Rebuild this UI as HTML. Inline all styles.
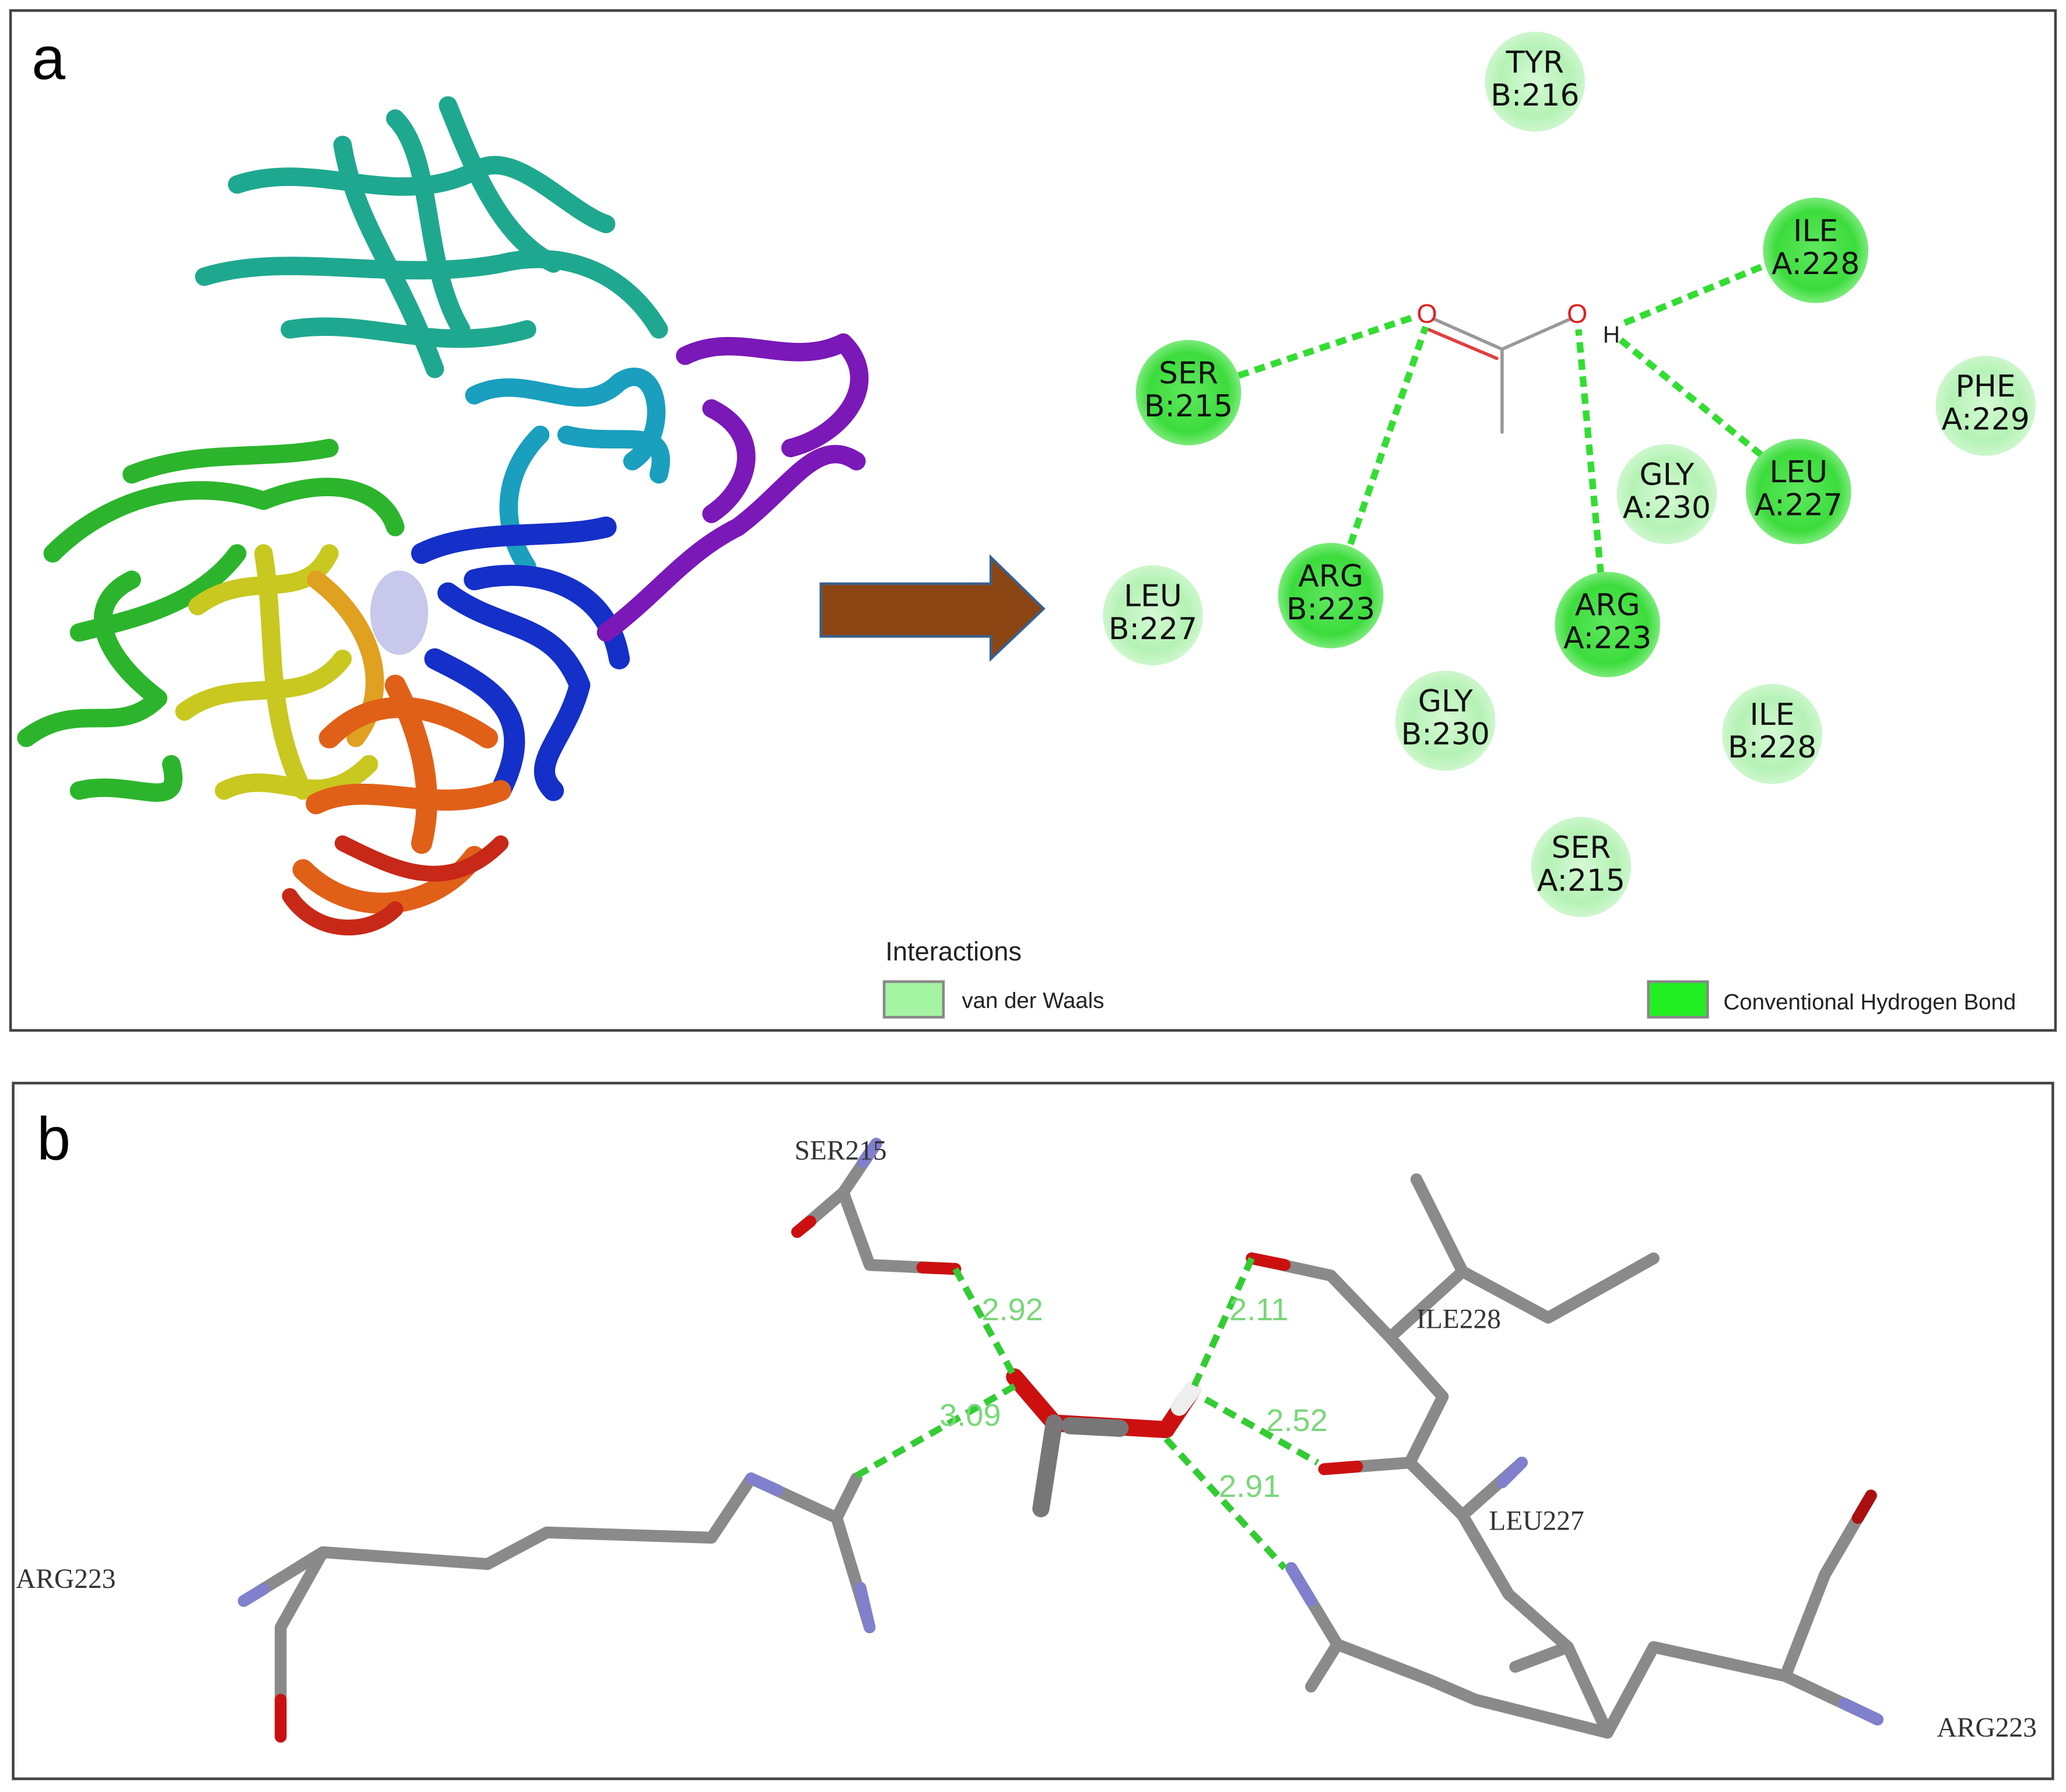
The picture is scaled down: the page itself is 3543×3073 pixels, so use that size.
<!DOCTYPE html>
<html><head><meta charset="utf-8"><style>html,body{margin:0;padding:0;background:#fff}svg{display:block}</style></head>
<body>
<svg width="3543" height="3073" viewBox="0 0 1568 1360" xmlns="http://www.w3.org/2000/svg">
<defs>
<radialGradient id="lg" cx="50%" cy="50%" r="50%"><stop offset="0" stop-color="#d6fad6"/><stop offset="0.7" stop-color="#b5f2b5"/><stop offset="1" stop-color="#cdf7cd"/></radialGradient>
<radialGradient id="dg" cx="50%" cy="50%" r="50%"><stop offset="0" stop-color="#5fe85f"/><stop offset="0.75" stop-color="#3cdc3c"/><stop offset="1" stop-color="#7aeb7a"/></radialGradient>
</defs>
<rect width="1568" height="1360" fill="#fff"/>
<rect x="8" y="8" width="1552" height="774" fill="none" stroke="#444" stroke-width="2"/>
<rect x="10" y="822" width="1548" height="528" fill="none" stroke="#444" stroke-width="2"/>
<text x="24" y="60" font-family="Liberation Sans,sans-serif" font-size="46">a</text>
<text x="28" y="880" font-family="Liberation Sans,sans-serif" font-size="46">b</text>

<!-- protein ribbon approximation -->
<g fill="none" stroke-linecap="round" stroke-linejoin="round">
<path d="M155,210 C220,190 300,215 380,200 C420,190 470,200 500,250 M180,140 C240,120 300,160 360,130 C390,110 430,160 460,170 M220,250 C280,240 330,270 400,250 M300,90 C330,120 320,200 350,250 M260,110 C270,170 300,200 330,280 M340,80 C360,130 380,180 420,200" stroke="#1fa890" stroke-width="14"/>
<path d="M360,300 C400,280 440,320 470,290 C500,270 510,330 480,350 M410,330 C380,360 380,400 400,430 M430,330 C470,340 510,320 500,360" stroke="#1a9fbf" stroke-width="14"/>
<path d="M320,420 C360,400 420,410 460,400 M340,450 C380,480 420,470 440,520 C430,560 400,580 420,600 M330,500 C370,520 410,540 380,600 M360,440 C400,430 460,440 470,500" stroke="#1430c8" stroke-width="16"/>
<path d="M520,270 C560,250 600,280 640,260 C670,290 640,330 600,340 M460,480 C500,450 520,420 560,400 C600,370 620,330 650,350 M540,310 C580,330 570,370 540,390" stroke="#7a18b8" stroke-width="14"/>
<path d="M40,420 C80,380 140,360 200,380 C250,360 290,370 300,400 M20,560 C60,530 90,560 120,530 C80,500 60,460 100,440 M60,600 C100,590 140,620 130,580 M100,360 C150,340 200,350 250,340 M60,480 C100,470 150,460 180,420" stroke="#2cb52c" stroke-width="14"/>
<path d="M150,460 C190,430 230,460 250,420 M140,540 C180,510 230,540 260,500 M170,600 C210,580 240,620 280,580 M200,420 C210,480 200,540 230,600" stroke="#c8c820" stroke-width="14"/>
<path d="M240,440 C280,470 300,520 270,560" stroke="#e0a020" stroke-width="14"/>
<path d="M250,560 C290,520 340,540 370,560 M240,610 C280,590 330,620 380,600 M230,660 C270,700 330,690 360,650 M300,520 C320,560 330,600 320,640" stroke="#e06018" stroke-width="16"/>
<path d="M260,640 C300,660 340,680 380,640 M220,680 C240,710 280,710 300,690" stroke="#c82818" stroke-width="12"/>
<ellipse cx="303" cy="465" rx="22" ry="32" fill="#c8c8ec" stroke="none"/>
</g>

<!-- arrow -->
<path d="M623,443 L752,443 L752,423 L792,462 L752,500 L752,483 L623,483 Z" fill="#8b4513" stroke="#3a5f8a" stroke-width="2"/>

<!-- ligand -->
<g stroke-linecap="round">
<line x1="1088" y1="242" x2="1140" y2="265" stroke="#999" stroke-width="2.5"/>
<line x1="1084" y1="250" x2="1136" y2="272" stroke="#e04040" stroke-width="2.5"/>
<line x1="1140" y1="265" x2="1192" y2="242" stroke="#999" stroke-width="2.5"/>
<line x1="1140" y1="265" x2="1140" y2="328" stroke="#999" stroke-width="2.5"/>
</g>
<text x="1083" y="245" font-family="Liberation Sans,sans-serif" font-size="20" fill="#e02020" text-anchor="middle">O</text>
<text x="1197" y="245" font-family="Liberation Sans,sans-serif" font-size="20" fill="#e02020" text-anchor="middle">O</text>
<text x="1223" y="260" font-family="Liberation Sans,sans-serif" font-size="18" fill="#222" text-anchor="middle">H</text>
<g stroke="#33dd33" stroke-width="5" stroke-dasharray="8,5">
<line x1="940" y1="285" x2="1075" y2="240"/>
<line x1="1025" y1="413" x2="1082" y2="248"/>
<line x1="1215" y1="436" x2="1198" y2="250"/>
<line x1="1233" y1="245" x2="1343" y2="200"/>
<line x1="1230" y1="258" x2="1340" y2="348"/>
</g>

<!-- residues -->
<g font-family="DejaVu Sans,sans-serif" font-size="23" text-anchor="middle" fill="#111">
<circle cx="1165" cy="62" r="38" fill="url(#lg)"/><text x="1165" y="55">TYR</text><text x="1165" y="80">B:216</text>
<circle cx="1378" cy="190" r="40" fill="url(#dg)"/><text x="1378" y="183">ILE</text><text x="1378" y="208">A:228</text>
<circle cx="902" cy="298" r="40" fill="url(#dg)"/><text x="902" y="291">SER</text><text x="902" y="316">B:215</text>
<circle cx="1507" cy="308" r="38" fill="url(#lg)"/><text x="1507" y="301">PHE</text><text x="1507" y="326">A:229</text>
<circle cx="1265" cy="375" r="38" fill="url(#lg)"/><text x="1265" y="368">GLY</text><text x="1265" y="393">A:230</text>
<circle cx="1365" cy="373" r="40" fill="url(#dg)"/><text x="1365" y="366">LEU</text><text x="1365" y="391">A:227</text>
<circle cx="875" cy="467" r="38" fill="url(#lg)"/><text x="875" y="460">LEU</text><text x="875" y="485">B:227</text>
<circle cx="1010" cy="452" r="40" fill="url(#dg)"/><text x="1010" y="445">ARG</text><text x="1010" y="470">B:223</text>
<circle cx="1220" cy="474" r="40" fill="url(#dg)"/><text x="1220" y="467">ARG</text><text x="1220" y="492">A:223</text>
<circle cx="1097" cy="547" r="38" fill="url(#lg)"/><text x="1097" y="540">GLY</text><text x="1097" y="565">B:230</text>
<circle cx="1345" cy="557" r="38" fill="url(#lg)"/><text x="1345" y="550">ILE</text><text x="1345" y="575">B:228</text>
<circle cx="1200" cy="658" r="38" fill="url(#lg)"/><text x="1200" y="651">SER</text><text x="1200" y="676">A:215</text>
</g>

<!-- legend -->
<text x="672" y="729" font-family="Liberation Sans,sans-serif" font-size="20" fill="#222">Interactions</text>
<rect x="671" y="745" width="45" height="27" fill="#a4f4a4" stroke="#888" stroke-width="2"/>
<text x="730" y="765" font-family="Liberation Sans,sans-serif" font-size="17" fill="#222">van der Waals</text>
<rect x="1251" y="745" width="45" height="27" fill="#22ee22" stroke="#888" stroke-width="2"/>
<text x="1308" y="766" font-family="Liberation Sans,sans-serif" font-size="17" fill="#222">Conventional Hydrogen Bond</text>

<!-- panel b sticks -->
<g fill="none" stroke="#8a8a8a" stroke-width="9" stroke-linecap="round" stroke-linejoin="round">
<polyline points="185,1215 245,1178 370,1187 415,1163 540,1167 570,1122 635,1152 660,1235"/>
<polyline points="635,1152 650,1122"/>
<polyline points="245,1178 213,1235 213,1318"/>
<polyline points="665,868 640,905 660,960 725,963"/>
<polyline points="640,905 605,935"/>
<polyline points="950,955 1010,968 1055,1015 1110,965 1175,1000 1255,955"/>
<polyline points="1110,965 1075,895"/>
<polyline points="1055,1015 1095,1060 1070,1110 1005,1115"/>
<polyline points="1070,1110 1110,1150 1155,1110"/>
<polyline points="1110,1150 1145,1210 1190,1250 1150,1265"/>
<polyline points="1190,1250 1220,1315 1255,1250 1355,1272 1385,1195 1420,1135"/>
<polyline points="1355,1272 1425,1305"/>
<polyline points="1220,1315 1120,1290 1085,1275 1015,1248 980,1190"/>
<polyline points="1015,1248 995,1280"/>
</g>
<g stroke-linecap="round" stroke-width="9" fill="none">
<line x1="185" y1="1215" x2="200" y2="1206" stroke="#8080cc"/>
<line x1="213" y1="1290" x2="213" y2="1318" stroke="#cc1010"/>
<line x1="700" y1="962" x2="725" y2="963" stroke="#cc1010"/>
<line x1="605" y1="935" x2="615" y2="927" stroke="#cc1010"/>
<line x1="950" y1="955" x2="975" y2="960" stroke="#cc1010"/>
<line x1="1005" y1="1115" x2="1030" y2="1113" stroke="#cc1010"/>
<line x1="1420" y1="1135" x2="1410" y2="1152" stroke="#aa1010"/>
<line x1="660" y1="1235" x2="653" y2="1205" stroke="#8080cc"/>
<line x1="570" y1="1122" x2="590" y2="1131" stroke="#8080cc"/>
<line x1="1425" y1="1305" x2="1400" y2="1293" stroke="#8080cc"/>
<line x1="980" y1="1190" x2="995" y2="1215" stroke="#8080cc"/>
<line x1="1155" y1="1110" x2="1140" y2="1125" stroke="#8080cc"/>
<line x1="665" y1="868" x2="655" y2="882" stroke="#8080cc"/>
</g>
<g fill="none" stroke-linecap="round" stroke-linejoin="round" stroke-width="13">
<polyline points="770,1045 800,1080 885,1085 905,1055" stroke="#cc1010"/>
<polyline points="800,1080 790,1145" stroke="#777"/>
<line x1="812" y1="1082" x2="850" y2="1084" stroke="#777"/>
<line x1="895" y1="1068" x2="905" y2="1055" stroke="#eee"/>
</g>
<g stroke="#33cc33" stroke-width="5" stroke-dasharray="10,6">
<line x1="725" y1="963" x2="770" y2="1045"/>
<line x1="650" y1="1120" x2="770" y2="1052"/>
<line x1="950" y1="955" x2="905" y2="1055"/>
<line x1="915" y1="1062" x2="1000" y2="1110"/>
<line x1="885" y1="1092" x2="975" y2="1190"/>
</g>
<g font-family="Liberation Sans,sans-serif" font-size="24" fill="#7ad77a">
<text x="745" y="1002">2.92</text><text x="713" y="1082">3.09</text><text x="933" y="1002">2.11</text><text x="961" y="1086">2.52</text><text x="925" y="1136">2.91</text>
</g>
<g font-family="Liberation Serif,serif" font-size="21" fill="#333">
<text x="603" y="880">SER215</text><text x="1075" y="1008">ILE228</text><text x="1130" y="1161">LEU227</text><text x="12" y="1205">ARG223</text><text x="1470" y="1318">ARG223</text>
</g>
</svg>
</body></html>
